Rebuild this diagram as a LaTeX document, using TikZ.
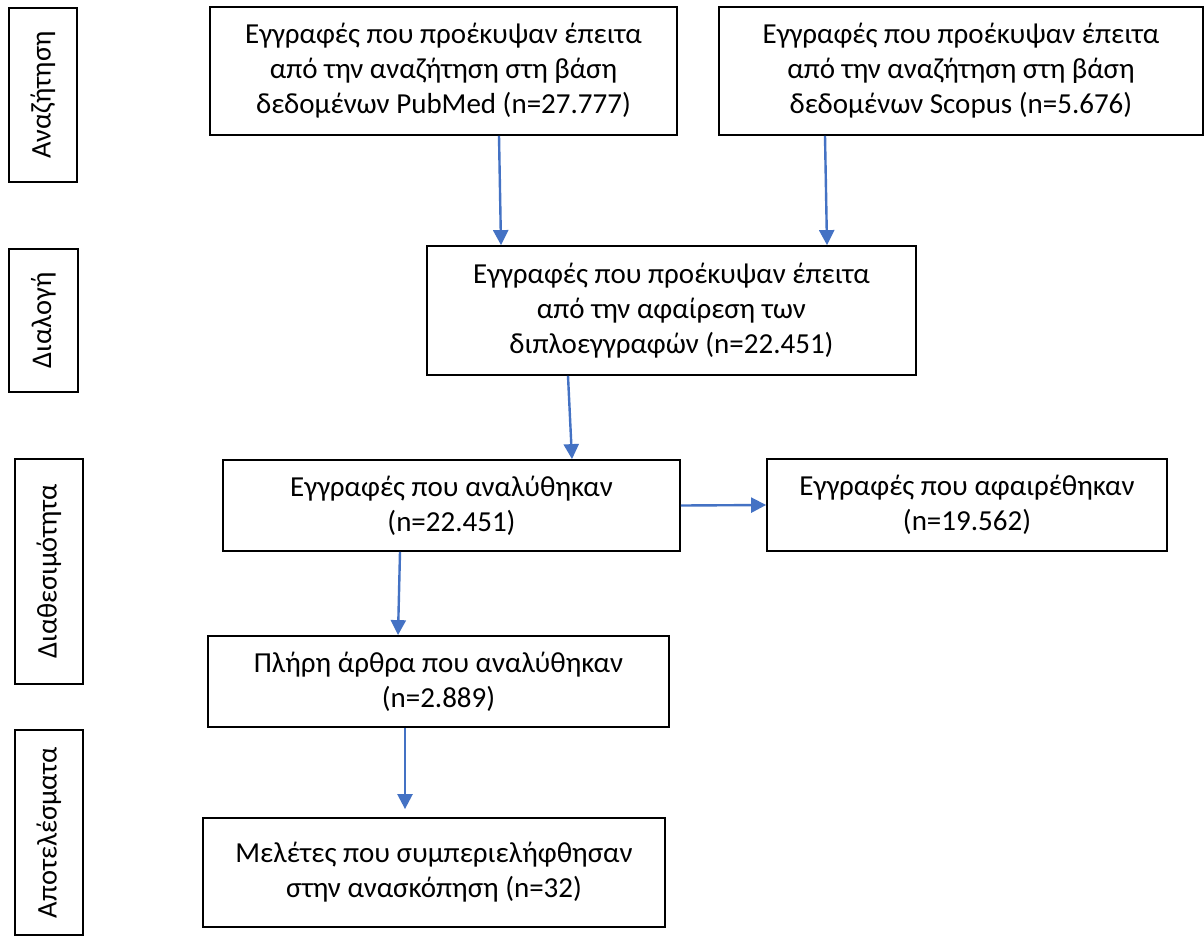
\documentclass[tikz,border=0pt]{standalone}
\usepackage{fontspec}
\setmainfont{Carlito}
\usetikzlibrary{arrows.meta}
\definecolor{arrowblue}{RGB}{68,114,196}
\begin{document}
\begin{tikzpicture}[x=1pt,y=-1pt,
  box/.style={draw=black,line width=1.8pt,align=center,inner sep=0pt,font=\fontsize{29}{35}\selectfont},
  side/.style={draw=black,line width=1.8pt,align=center,inner sep=0pt,rotate=90,font=\fontsize{28.5}{34}\selectfont},
  arr/.style={draw=arrowblue,line width=2.4pt,-{Triangle[length=15pt,width=15pt]}}]
\useasboundingbox[fill=white] (0,0) rectangle (1204,938);
% side labels
\node[side,minimum width=174pt,minimum height=68pt] (s1) at (43,95) {Αναζήτηση};
\node[side,minimum width=143pt,minimum height=69pt] (s2) at (43.5,320.5) {Διαλογή};
\node[side,minimum width=225pt,minimum height=68pt] (s3) at (49,571.5) {Διαθεσιμότητα};
\node[side,minimum width=205pt,minimum height=68pt] (s4) at (49,832.5) {Αποτελέσματα};
% boxes
\node[box,minimum width=467pt,minimum height=128pt] (pub) at (443.5,71) {Εγγραφές που προέκυψαν έπειτα\\από την αναζήτηση στη βάση\\δεδομένων PubMed (n=27.777)};
\node[box,minimum width=484pt,minimum height=128pt] (sco) at (961,71) {Εγγραφές που προέκυψαν έπειτα\\από την αναζήτηση στη βάση\\δεδομένων Scopus (n=5.676)};
\node[box,minimum width=489pt,minimum height=129pt] (dedup) at (671.5,310.5) {Εγγραφές που προέκυψαν έπειτα\\από την αφαίρεση των\\διπλοεγγραφών (n=22.451)};
\node[box,minimum width=457pt,minimum height=91pt] (anal) at (451.5,505.5) {Εγγραφές που αναλύθηκαν\\(n=22.451)};
\node[box,minimum width=400pt,minimum height=92pt] (rem) at (967,505) {Εγγραφές που αφαιρέθηκαν\\(n=19.562)};
\node[box,minimum width=461pt,minimum height=91pt] (full) at (438.5,681.5) {Πλήρη άρθρα που αναλύθηκαν\\(n=2.889)};
\node[box,minimum width=462pt,minimum height=109pt] (stud) at (434,872.5) {Μελέτες που συμπεριελήφθησαν\\στην ανασκόπηση (n=32)};
% arrows
\draw[arr] ([xshift=55.5pt]pub.south) -- ([xshift=-170.5pt]dedup.north);
\draw[arr] ([xshift=-136pt]sco.south) -- ([xshift=155.5pt]dedup.north);
\draw[arr] ([xshift=-103.5pt]dedup.south) -- ([xshift=120.5pt]anal.north);
\draw[arr] (anal.east) -- (rem.west);
\draw[arr] ([xshift=-51.5pt]anal.south) -- ([xshift=-40.5pt]full.north);
\draw[arr] ([xshift=-33.5pt]full.south) -- ([xshift=-29pt,yshift=8pt]stud.north);
\end{tikzpicture}
\end{document}
